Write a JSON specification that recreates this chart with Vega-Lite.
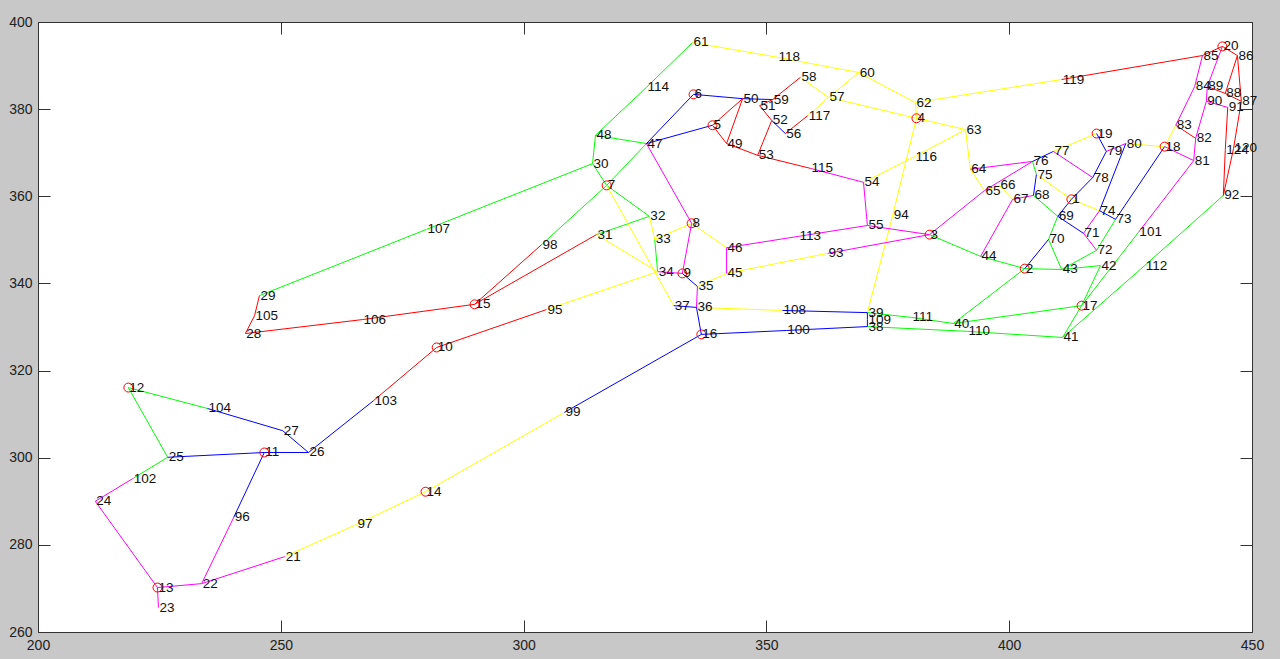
{
  "$schema": "https://vega.github.io/schema/vega-lite/v6.json",
  "width": 1214,
  "height": 610,
  "autosize": {"type": "none"},
  "padding": {"left": 38, "top": 22, "right": 28, "bottom": 27},
  "background": "#c8c8c8",
  "config": {
    "view": {"stroke": "#333333", "strokeWidth": 1, "fill": "white"},
    "axis": {"grid": false, "domain": false, "tickSize": -12, "tickColor": "#333333", "labelFlush": false, "labelOverlap": false, "labelFont": "Liberation Sans", "labelFontSize": 14, "labelColor": "#222222", "title": null}
  },
  "datasets": {
    "nodes": [
      {"id":1,"x":412.8,"y":359.3},{"id":2,"x":403.2,"y":343.4},{"id":3,"x":383.6,"y":351.2},{"id":4,"x":380.9,"y":377.9},
      {"id":5,"x":338.9,"y":376.3},{"id":6,"x":335.0,"y":383.4},{"id":7,"x":317.1,"y":362.5},{"id":8,"x":334.6,"y":353.8},
      {"id":9,"x":332.7,"y":342.3},{"id":10,"x":282.1,"y":325.3},{"id":11,"x":246.6,"y":301.2},{"id":12,"x":218.6,"y":316.1},
      {"id":13,"x":224.6,"y":270.2},{"id":14,"x":279.8,"y":292.2},{"id":15,"x":289.9,"y":335.2},{"id":16,"x":336.6,"y":328.3},
      {"id":17,"x":414.9,"y":334.9},{"id":18,"x":432.0,"y":371.4},{"id":19,"x":418.0,"y":374.4},{"id":20,"x":443.9,"y":394.4},
      {"id":21,"x":250.8,"y":277.3},{"id":22,"x":233.7,"y":271.1},{"id":23,"x":224.8,"y":265.6},{"id":24,"x":211.8,"y":290.0},
      {"id":25,"x":226.7,"y":300.1},{"id":26,"x":255.7,"y":301.2},{"id":27,"x":250.4,"y":306.2},{"id":28,"x":242.7,"y":328.5},
      {"id":29,"x":245.6,"y":337.2},{"id":30,"x":314.2,"y":367.5},{"id":31,"x":315.0,"y":351.2},{"id":32,"x":325.9,"y":355.4},
      {"id":33,"x":327.0,"y":350.1},{"id":34,"x":327.6,"y":342.7},{"id":35,"x":335.8,"y":339.3},{"id":36,"x":335.6,"y":334.5},
      {"id":37,"x":330.9,"y":334.9},{"id":38,"x":370.8,"y":330.1},{"id":39,"x":370.8,"y":333.3},{"id":40,"x":388.5,"y":330.8},
      {"id":41,"x":411.0,"y":327.6},{"id":42,"x":418.8,"y":344.1},{"id":43,"x":410.8,"y":343.2},{"id":44,"x":394.1,"y":346.2},
      {"id":45,"x":341.8,"y":342.3},{"id":46,"x":341.8,"y":348.2},{"id":47,"x":325.3,"y":372.1},{"id":48,"x":314.8,"y":374.0},
      {"id":49,"x":341.8,"y":372.1},{"id":50,"x":345.1,"y":382.4},{"id":51,"x":348.6,"y":380.8},{"id":52,"x":351.1,"y":377.4},
      {"id":53,"x":348.2,"y":369.4},{"id":54,"x":370.0,"y":363.2},{"id":55,"x":370.8,"y":353.3},{"id":56,"x":353.9,"y":374.4},
      {"id":57,"x":362.8,"y":382.7},{"id":58,"x":357.0,"y":387.3},{"id":59,"x":351.3,"y":382.2},{"id":60,"x":369.0,"y":388.4},
      {"id":61,"x":334.8,"y":395.3},{"id":62,"x":380.7,"y":381.5},{"id":63,"x":391.0,"y":375.3},{"id":64,"x":392.0,"y":366.2},
      {"id":65,"x":394.9,"y":361.3},{"id":66,"x":398.0,"y":362.5},{"id":67,"x":400.7,"y":359.3},{"id":68,"x":405.0,"y":360.2},
      {"id":69,"x":410.0,"y":355.4},{"id":70,"x":408.1,"y":350.1},{"id":71,"x":415.3,"y":351.5},{"id":72,"x":418.0,"y":347.6},
      {"id":73,"x":421.9,"y":354.7},{"id":74,"x":418.6,"y":356.7},{"id":75,"x":405.6,"y":365.0},{"id":76,"x":404.8,"y":368.0},
      {"id":77,"x":409.1,"y":370.3},{"id":78,"x":417.2,"y":364.3},{"id":79,"x":420.0,"y":370.3},{"id":80,"x":424.0,"y":372.1},
      {"id":81,"x":438.0,"y":368.2},{"id":82,"x":438.4,"y":373.3},{"id":83,"x":434.3,"y":376.3},{"id":84,"x":438.2,"y":385.2},
      {"id":85,"x":439.8,"y":392.3},{"id":86,"x":447.0,"y":392.3},{"id":87,"x":447.8,"y":381.8},{"id":88,"x":444.5,"y":383.6},
      {"id":89,"x":440.8,"y":385.2},{"id":90,"x":440.6,"y":381.8},{"id":91,"x":445.0,"y":380.4},{"id":92,"x":444.1,"y":360.2},
      {"id":93,"x":362.6,"y":346.9},{"id":94,"x":376.0,"y":355.6},{"id":95,"x":304.7,"y":334.0},{"id":96,"x":240.3,"y":286.3},
      {"id":97,"x":265.6,"y":284.7},{"id":98,"x":303.7,"y":348.9},{"id":99,"x":308.4,"y":310.4},{"id":100,"x":354.1,"y":329.2},
      {"id":101,"x":426.6,"y":351.7},{"id":102,"x":219.5,"y":295.2},{"id":103,"x":269.1,"y":313.1},{"id":104,"x":234.9,"y":311.3},
      {"id":105,"x":244.6,"y":332.6},{"id":106,"x":266.8,"y":331.7},{"id":107,"x":280.0,"y":352.4},{"id":108,"x":353.3,"y":333.8},
      {"id":109,"x":370.8,"y":331.7},{"id":110,"x":391.4,"y":329.0},{"id":111,"x":379.9,"y":332.2},{"id":112,"x":427.9,"y":344.1},
      {"id":113,"x":356.6,"y":350.8},{"id":114,"x":325.3,"y":385.0},{"id":115,"x":359.1,"y":366.4},{"id":116,"x":380.5,"y":369.1},
      {"id":117,"x":358.5,"y":378.5},{"id":118,"x":352.3,"y":391.9},{"id":119,"x":410.8,"y":386.8},{"id":120,"x":446.2,"y":371.0},
      {"id":124,"x":444.5,"y":370.7}
    ],
    "edges": [
      {"a":61,"b":114,"c":"g"},{"a":114,"b":48,"c":"g"},{"a":48,"b":47,"c":"g"},{"a":48,"b":30,"c":"g"},{"a":30,"b":107,"c":"g"},
      {"a":107,"b":29,"c":"g"},{"a":30,"b":7,"c":"g"},{"a":7,"b":47,"c":"g"},{"a":7,"b":98,"c":"g"},{"a":7,"b":32,"c":"g"},
      {"a":32,"b":31,"c":"g"},{"a":33,"b":34,"c":"g"},{"a":3,"b":44,"c":"g"},{"a":44,"b":2,"c":"g"},{"a":2,"b":43,"c":"g"},
      {"a":43,"b":42,"c":"g"},{"a":43,"b":72,"c":"g"},{"a":72,"b":73,"c":"g"},{"a":43,"b":70,"c":"g"},{"a":70,"b":69,"c":"g"},
      {"a":68,"b":69,"c":"g"},{"a":76,"b":75,"c":"g"},{"a":42,"b":17,"c":"g"},{"a":17,"b":101,"c":"g"},{"a":17,"b":41,"c":"g"},
      {"a":41,"b":112,"c":"g"},{"a":112,"b":92,"c":"g"},{"a":17,"b":40,"c":"g"},{"a":40,"b":2,"c":"g"},{"a":39,"b":111,"c":"g"},
      {"a":111,"b":40,"c":"g"},{"a":38,"b":110,"c":"g"},{"a":110,"b":41,"c":"g"},{"a":104,"b":12,"c":"g"},{"a":12,"b":25,"c":"g"},
      {"a":25,"b":102,"c":"g"},
      {"a":61,"b":118,"c":"y"},{"a":118,"b":60,"c":"y"},{"a":60,"b":62,"c":"y"},{"a":60,"b":57,"c":"y"},{"a":58,"b":57,"c":"y"},
      {"a":57,"b":117,"c":"y"},{"a":57,"b":4,"c":"y"},{"a":4,"b":62,"c":"y"},{"a":62,"b":119,"c":"y"},{"a":4,"b":63,"c":"y"},
      {"a":63,"b":116,"c":"y"},{"a":116,"b":54,"c":"y"},{"a":4,"b":94,"c":"y"},{"a":94,"b":39,"c":"y"},{"a":63,"b":64,"c":"y"},
      {"a":64,"b":65,"c":"y"},{"a":65,"b":66,"c":"y"},{"a":66,"b":67,"c":"y"},{"a":75,"b":1,"c":"y"},{"a":1,"b":74,"c":"y"},
      {"a":77,"b":19,"c":"y"},{"a":80,"b":18,"c":"y"},{"a":18,"b":83,"c":"y"},{"a":7,"b":37,"c":"y"},{"a":31,"b":34,"c":"y"},
      {"a":34,"b":95,"c":"y"},{"a":32,"b":33,"c":"y"},{"a":33,"b":8,"c":"y"},{"a":8,"b":46,"c":"y"},{"a":45,"b":35,"c":"y"},
      {"a":45,"b":93,"c":"y"},{"a":36,"b":108,"c":"y"},{"a":21,"b":97,"c":"y"},{"a":97,"b":14,"c":"y"},{"a":14,"b":99,"c":"y"},
      {"a":47,"b":8,"c":"m"},{"a":8,"b":9,"c":"m"},{"a":9,"b":34,"c":"m"},{"a":35,"b":36,"c":"m"},{"a":46,"b":45,"c":"m"},
      {"a":46,"b":113,"c":"m"},{"a":113,"b":55,"c":"m"},{"a":55,"b":54,"c":"m"},{"a":54,"b":115,"c":"m"},{"a":55,"b":3,"c":"m"},
      {"a":93,"b":3,"c":"m"},{"a":3,"b":65,"c":"m"},{"a":65,"b":76,"c":"m"},{"a":64,"b":76,"c":"m"},{"a":67,"b":68,"c":"m"},
      {"a":67,"b":44,"c":"m"},{"a":77,"b":78,"c":"m"},{"a":71,"b":72,"c":"m"},{"a":71,"b":74,"c":"m"},{"a":79,"b":80,"c":"m"},
      {"a":18,"b":81,"c":"m"},{"a":81,"b":101,"c":"m"},{"a":83,"b":84,"c":"m"},{"a":84,"b":85,"c":"m"},{"a":20,"b":89,"c":"m"},
      {"a":89,"b":90,"c":"m"},{"a":90,"b":91,"c":"m"},{"a":90,"b":82,"c":"m"},{"a":82,"b":81,"c":"m"},{"a":102,"b":24,"c":"m"},
      {"a":24,"b":13,"c":"m"},{"a":13,"b":23,"c":"m"},{"a":13,"b":22,"c":"m"},{"a":22,"b":21,"c":"m"},{"a":22,"b":96,"c":"m"},
      {"a":6,"b":47,"c":"b"},{"a":47,"b":5,"c":"b"},{"a":6,"b":50,"c":"b"},{"a":50,"b":59,"c":"b"},{"a":52,"b":56,"c":"b"},
      {"a":9,"b":35,"c":"b"},{"a":36,"b":37,"c":"b"},{"a":36,"b":16,"c":"b"},{"a":108,"b":39,"c":"b"},{"a":39,"b":109,"c":"b"},
      {"a":109,"b":38,"c":"b"},{"a":38,"b":100,"c":"b"},{"a":100,"b":16,"c":"b"},{"a":16,"b":99,"c":"b"},{"a":76,"b":77,"c":"b"},
      {"a":75,"b":68,"c":"b"},{"a":19,"b":79,"c":"b"},{"a":79,"b":78,"c":"b"},{"a":78,"b":1,"c":"b"},{"a":1,"b":69,"c":"b"},
      {"a":69,"b":71,"c":"b"},{"a":70,"b":2,"c":"b"},{"a":80,"b":74,"c":"b"},{"a":74,"b":73,"c":"b"},{"a":73,"b":18,"c":"b"},
      {"a":103,"b":26,"c":"b"},{"a":26,"b":27,"c":"b"},{"a":27,"b":104,"c":"b"},{"a":11,"b":25,"c":"b"},{"a":11,"b":26,"c":"b"},
      {"a":96,"b":11,"c":"b"},
      {"a":5,"b":50,"c":"r"},{"a":50,"b":49,"c":"r"},{"a":5,"b":49,"c":"r"},{"a":49,"b":53,"c":"r"},{"a":53,"b":115,"c":"r"},
      {"a":53,"b":52,"c":"r"},{"a":52,"b":51,"c":"r"},{"a":51,"b":59,"c":"r"},{"a":59,"b":58,"c":"r"},{"a":117,"b":56,"c":"r"},
      {"a":119,"b":85,"c":"r"},{"a":85,"b":20,"c":"r"},{"a":20,"b":86,"c":"r"},{"a":86,"b":87,"c":"r"},{"a":86,"b":88,"c":"r"},
      {"a":89,"b":88,"c":"r"},{"a":88,"b":87,"c":"r"},{"a":92,"b":124,"c":"r"},{"a":124,"b":91,"c":"r"},{"a":92,"b":120,"c":"r"},
      {"a":120,"b":87,"c":"r"},{"a":83,"b":82,"c":"r"},{"a":98,"b":15,"c":"r"},{"a":31,"b":15,"c":"r"},{"a":15,"b":106,"c":"r"},
      {"a":106,"b":28,"c":"r"},{"a":28,"b":105,"c":"r"},{"a":105,"b":29,"c":"r"},{"a":10,"b":95,"c":"r"},{"a":10,"b":103,"c":"r"}
    ]
  },
  "resolve": {"axis": {"x": "independent", "y": "independent"}},
  "layer": [
    {
      "data": {"name": "edges"},
      "transform": [
        {"lookup": "a", "from": {"data": {"name": "nodes"}, "key": "id", "fields": ["x", "y"]}},
        {"lookup": "b", "from": {"data": {"name": "nodes"}, "key": "id", "fields": ["x", "y"]}, "as": ["xb", "yb"]}
      ],
      "mark": {"type": "rule", "strokeWidth": 1},
      "encoding": {
        "x": {"field": "x", "type": "quantitative", "scale": {"domain": [200, 450], "nice": false, "zero": false},
              "axis": {"orient": "bottom", "values": [200, 250, 300, 350, 400, 450], "labelPadding": 18}},
        "y": {"field": "y", "type": "quantitative", "scale": {"domain": [260, 400], "nice": false, "zero": false},
              "axis": {"orient": "left", "values": [260, 280, 300, 320, 340, 360, 380, 400], "labelPadding": 18}},
        "x2": {"field": "xb"},
        "y2": {"field": "yb"},
        "color": {"field": "c", "type": "nominal", "legend": null,
                  "scale": {"domain": ["g", "y", "m", "b", "r"], "range": ["#00ff00", "#ffff00", "#ff00ff", "#0000ff", "#ff0000"]}}
      }
    },
    {
      "data": {"name": "nodes"},
      "transform": [{"filter": "datum.id <= 20"}],
      "mark": {"type": "point", "shape": "circle", "filled": false, "stroke": "#ff0000", "strokeWidth": 1, "size": 80, "opacity": 1},
      "encoding": {
        "x": {"field": "x", "type": "quantitative", "axis": null},
        "y": {"field": "y", "type": "quantitative", "axis": null}
      }
    },
    {
      "data": {"name": "nodes"},
      "mark": {"type": "text", "align": "left", "baseline": "middle", "dx": 1, "font": "Liberation Sans", "fontSize": 13.5, "color": "#111111"},
      "encoding": {
        "x": {"field": "x", "type": "quantitative",
              "axis": {"orient": "top", "values": [200, 250, 300, 350, 400, 450], "labels": false}},
        "y": {"field": "y", "type": "quantitative",
              "axis": {"orient": "right", "values": [260, 280, 300, 320, 340, 360, 380, 400], "labels": false}},
        "text": {"field": "id", "type": "nominal"}
      }
    }
  ]
}
